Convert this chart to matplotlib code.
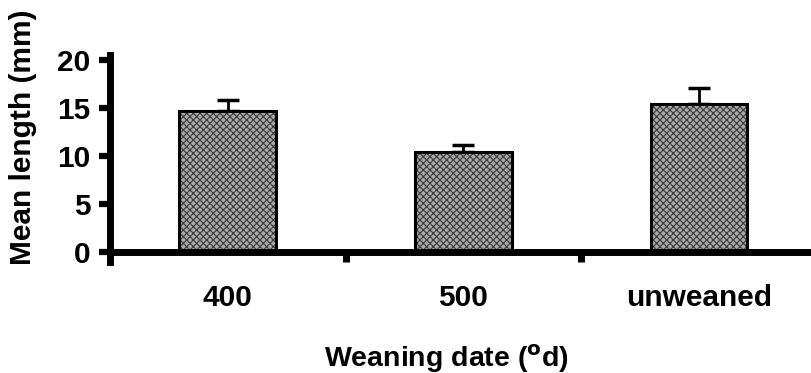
import matplotlib
matplotlib.use("Agg")
import matplotlib.pyplot as plt

categories = ["400", "500", "unweaned"]
means = [14.7, 10.4, 15.4]
errors = [1.1, 0.7, 1.7]
yticks = [0, 5, 10, 15, 20]

plt.rcParams['font.family'] = ['Liberation Sans', 'DejaVu Sans']
plt.rcParams['font.weight'] = 'bold'
plt.rcParams['hatch.linewidth'] = 0.8

fig = plt.figure(figsize=(8.12, 3.73), dpi=100)
ax = fig.add_axes([110/812, 1-252/373, 1-110/812, (252-60)/373])

x = list(range(len(categories)))
ax.bar(x, means, width=0.41, color='#a8a8a8', edgecolor='#3a3a3a', hatch='xxxxx', linewidth=0, zorder=2)
ax.bar(x, means, width=0.41, fill=False, edgecolor='black', linewidth=2.2, zorder=3)
ax.errorbar(x, means, yerr=[[0]*3, errors], fmt='none', ecolor='black', elinewidth=2, capsize=8, capthick=2.5, zorder=1)

ax.set_xlim(-0.5, 2.48)
ax.set_ylim(0, 20)
ax.set_yticks(yticks)
ax.set_xticks([0.5, 1.5], minor=False)
ax.set_xticklabels([])
ax.set_xticks(x, minor=True)
ax.set_xticklabels(categories, minor=True, fontsize=21.5, fontweight='bold')
ax.tick_params(axis='x', which='minor', length=0, pad=23)
ax.tick_params(axis='x', which='major', length=7, width=5, direction='out')
ax.tick_params(axis='y', length=8, width=4.5, labelsize=21.5, pad=6)
for lbl in ax.get_yticklabels():
    lbl.set_fontweight('bold')

for s in ['top', 'right']:
    ax.spines[s].set_visible(False)
ax.spines['left'].set_linewidth(5)
ax.spines['bottom'].set_linewidth(5)
ax.spines['left'].set_bounds(-1.0, 20.5)
ax.spines['left'].set_clip_on(False)

ax.set_ylabel("Mean length (mm)", fontsize=21.5, fontweight='bold')
ax.yaxis.set_label_coords(-0.104, 0.6)
ax.set_xlabel("Weaning date ($^{\\mathbf{o}}$d)", fontsize=20.5, fontweight='bold')
ax.xaxis.set_label_coords(0.48, -0.47)

fig.savefig("out.png", dpi=100)
